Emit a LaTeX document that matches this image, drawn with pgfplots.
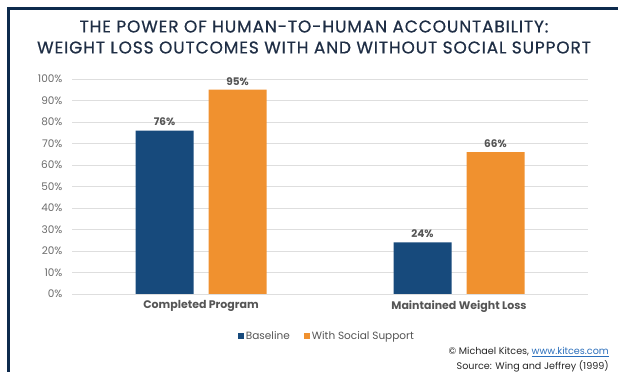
\documentclass[border=0pt]{standalone}
\usepackage{pgfplots}
\pgfplotsset{compat=1.18}
\usepackage{fontspec}
\setmainfont{Poppins}
\newfontfamily\titlefont{Poppins}[LetterSpace=5, FakeBold=0.6]
\definecolor{navy}{HTML}{0D2A4D}
\definecolor{base}{HTML}{174A7C}
\definecolor{orng}{HTML}{F0912F}
\definecolor{tickgray}{HTML}{6B6B6B}
\definecolor{labgray}{HTML}{555555}
\definecolor{gridgray}{HTML}{DEDEDE}
\definecolor{titlec}{HTML}{1F2E45}
\definecolor{linkblue}{HTML}{2A6EBB}
\begin{document}
\begin{tikzpicture}[x=1pt,y=1pt]
\useasboundingbox (0,0) rectangle (618,372);
% frame
\fill[navy] (7,372-6.7) rectangle (618,372-10);
\fill[navy] (7,372-6.7) rectangle (10,0);
% title
\node[font=\titlefont\fontsize{17}{21}\selectfont, text=titlec, align=center] at (314,372-37) {THE POWER OF HUMAN-TO-HUMAN ACCOUNTABILITY:\\WEIGHT LOSS OUTCOMES WITH AND WITHOUT SOCIAL SUPPORT};
\begin{axis}[
  at={(72pt,78pt)}, anchor=south west,
  scale only axis, width=516pt, height=215pt,
  ybar=15pt, bar width=58pt,
  xmin=-0.5, xmax=1.5, ymin=0, ymax=100,
  xtick={0,1}, xticklabels={Completed Program,Maintained Weight Loss},
  ytick={0,10,...,100},
  yticklabel={\pgfmathprintnumber{\tick}\%},
  /pgf/number format/assume math mode=true,
  axis line style={draw=none},
  major tick length=0pt,
  ymajorgrids, grid style={gridgray, line width=0.8pt},
  yticklabel style={font=\fontsize{10.5}{12}\selectfont, text=tickgray, xshift=-6pt},
  xticklabel style={font=\fontsize{11}{13}\selectfont\bfseries, text=labgray, yshift=-3pt},
  nodes near coords={\pgfmathprintnumber{\pgfplotspointmeta}\%},
  nodes near coords style={font=\fontsize{10.5}{12}\selectfont\bfseries, text=labgray, yshift=1pt},
  legend style={draw=none, at={(0.494,-0.195)}, anchor=center, legend columns=2,
    font=\fontsize{10.5}{12}\selectfont, text=labgray,
    /tikz/every even column/.append style={column sep=12pt}},
  legend image code/.code={\fill[#1] (0pt,-3pt) rectangle (6pt,3pt);},
]
\addplot[fill=base, draw=none] coordinates {(0,76) (1,24)};
\addplot[fill=orng, draw=none] coordinates {(0,95) (1,66)};
\legend{Baseline, With Social Support}
\end{axis}
\node[anchor=east, font=\fontsize{9.6}{11}\selectfont, text=black!85, inner sep=0pt] at (609,372-352) {© Michael Kitces, \textcolor{linkblue}{\underline{www.kitces.com}}};
\node[anchor=east, font=\fontsize{9.6}{11}\selectfont, text=black!85, inner sep=0pt] at (609,372-366) {Source: Wing and Jeffrey (1999)};
\end{tikzpicture}
\end{document}
